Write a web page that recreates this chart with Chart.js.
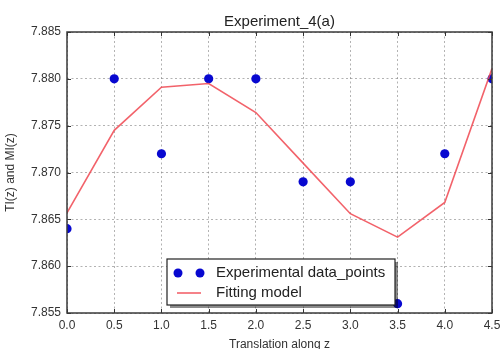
<!DOCTYPE html>
<html>
<head>
<meta charset="utf-8">
<script src="https://cdn.jsdelivr.net/npm/chart.js@4/dist/chart.umd.min.js"></script>
<style>
  html, body { margin: 0; padding: 0; background: #ffffff; }
  #wrap { width: 501px; height: 349px; }
</style>
</head>
<body>
<div id="wrap"><canvas id="c" width="501" height="349"></canvas></div>
<script>
// ---- data ----
const xValues = [0.0, 0.5, 1.0, 1.5, 2.0, 2.5, 3.0, 3.5, 4.0, 4.5];
const experimentalPoints = [7.864, 7.880, 7.872, 7.880, 7.880, 7.869, 7.869, 7.856, 7.872, 7.880];
const fittingModel = [7.8657, 7.8745, 7.8791, 7.8795, 7.8764, 7.8710, 7.8656, 7.8631, 7.8668, 7.8811];
const xTickValues = [0.0, 0.5, 1.0, 1.5, 2.0, 2.5, 3.0, 3.5, 4.0, 4.5];
const yTickValues = [7.855, 7.860, 7.865, 7.870, 7.875, 7.880, 7.885];
const titleText = 'Experiment_4(a)';
const xTitle = 'Translation along z';
const yTitle = 'TI(z) and MI(z)';
const seriesNames = ['Experimental data_points', 'Fitting model'];

const BLUE = '#0808d0';
const RED = 'rgba(240,70,80,0.85)';
const FONT = "'Liberation Sans', Arial, sans-serif";

const toXY = (ys) => xValues.map((x, i) => ({ x: x, y: ys[i] }));

const framePlugin = {
  id: 'frame',
  afterDatasetsDraw(chart) {
    const { ctx, chartArea: a, scales } = chart;
    ctx.save();
    // inward tick marks
    ctx.strokeStyle = '#333';
    ctx.lineWidth = 1;
    ctx.beginPath();
    xTickValues.forEach(v => {
      const px = Math.round(scales.x.getPixelForValue(v)) + 0.5;
      ctx.moveTo(px, a.bottom); ctx.lineTo(px, a.bottom - 4);
      ctx.moveTo(px, a.top); ctx.lineTo(px, a.top + 4);
    });
    yTickValues.forEach(v => {
      const py = Math.round(scales.y.getPixelForValue(v)) + 0.5;
      ctx.moveTo(a.left, py); ctx.lineTo(a.left + 4, py);
      ctx.moveTo(a.right, py); ctx.lineTo(a.right - 4, py);
    });
    ctx.stroke();
    // frame
    ctx.strokeStyle = '#3a3a3a';
    ctx.lineWidth = 1.5;
    ctx.strokeRect(a.left, a.top, a.right - a.left, a.bottom - a.top);
    ctx.restore();
  },
  afterDraw(chart) {
    // legend box inside the plot (matplotlib style, two markers)
    const { ctx } = chart;
    const bx = 167, by = 259, bw = 228, bh = 46;
    ctx.save();
    ctx.fillStyle = 'rgba(0,0,0,0.45)';
    ctx.fillRect(bx + 3, by + 3, bw, bh);
    ctx.fillStyle = '#ffffff';
    ctx.fillRect(bx, by, bw, bh);
    ctx.strokeStyle = '#222';
    ctx.lineWidth = 1.2;
    ctx.strokeRect(bx, by, bw, bh);
    const ds = chart.data.datasets;
    ctx.fillStyle = ds[0].backgroundColor;
    [178, 200].forEach(cx => {
      ctx.beginPath(); ctx.arc(cx, 273, 4.5, 0, Math.PI * 2); ctx.fill();
    });
    ctx.strokeStyle = ds[1].borderColor;
    ctx.lineWidth = 1.6;
    ctx.beginPath(); ctx.moveTo(177, 293); ctx.lineTo(201, 293); ctx.stroke();
    ctx.fillStyle = '#222';
    ctx.font = '15px ' + FONT;
    ctx.textBaseline = 'middle';
    ctx.textAlign = 'left';
    ctx.fillText(ds[0].label, 216, 273);
    ctx.fillText(ds[1].label, 216, 293);
    ctx.restore();
  }
};

new Chart(document.getElementById('c'), {
  type: 'scatter',
  data: {
    datasets: [
      {
        label: seriesNames[0],
        data: toXY(experimentalPoints),
        backgroundColor: BLUE,
        borderColor: BLUE,
        pointRadius: 4.6,
        pointBorderWidth: 0,
        showLine: false,
        clip: 0,
        order: 1
      },
      {
        label: seriesNames[1],
        data: toXY(fittingModel),
        borderColor: RED,
        backgroundColor: RED,
        borderWidth: 1.6,
        pointRadius: 0,
        showLine: true,
        tension: 0,
        clip: 0,
        order: 0
      }
    ]
  },
  plugins: [framePlugin],
  options: {
    responsive: false,
    animation: false,
    devicePixelRatio: 1,
    layout: { padding: { top: 0, right: 9, bottom: 0, left: 0 } },
    plugins: {
      legend: { display: false },
      tooltip: { enabled: false },
      title: {
        display: true,
        text: titleText,
        fullSize: false,
        color: '#222',
        font: { family: FONT, size: 15, weight: 'normal' },
        padding: { top: 13, bottom: 1 }
      }
    },
    scales: {
      x: {
        type: 'linear',
        min: 0, max: 4.5,
        afterBuildTicks: (s) => { s.ticks = xTickValues.map(v => ({ value: v })); },
        afterFit: (s) => { s.height = 36; s.paddingLeft = 0; s.paddingRight = 0; },
        grid: { color: 'rgba(0,0,0,0.3)', lineWidth: 1, drawTicks: false },
        border: { display: false, dash: [2, 2.5] },
        ticks: {
          padding: 5,
          color: '#333',
          font: { family: FONT, size: 12 },
          maxRotation: 0,
          autoSkip: false,
          callback: (v) => Number(v).toFixed(1)
        },
        title: {
          display: true, text: xTitle, color: '#333',
          font: { family: FONT, size: 12 },
          padding: { top: 0, bottom: -3 }
        }
      },
      y: {
        type: 'linear',
        min: 7.855, max: 7.885,
        afterBuildTicks: (s) => { s.ticks = yTickValues.map(v => ({ value: v })); },
        afterFit: (s) => { s.width = 67; s.paddingTop = 0; s.paddingBottom = 0; },
        grid: { color: 'rgba(0,0,0,0.3)', lineWidth: 1, drawTicks: false },
        border: { display: false, dash: [2, 2.5] },
        ticks: {
          padding: 6,
          color: '#333',
          font: { family: FONT, size: 12 },
          autoSkip: false,
          callback: (v) => Number(v).toFixed(3)
        },
        title: {
          display: true, text: yTitle, color: '#333',
          font: { family: FONT, size: 12 },
          padding: { top: 3, bottom: 0 }
        }
      }
    }
  }
});
</script>
</body>
</html>
